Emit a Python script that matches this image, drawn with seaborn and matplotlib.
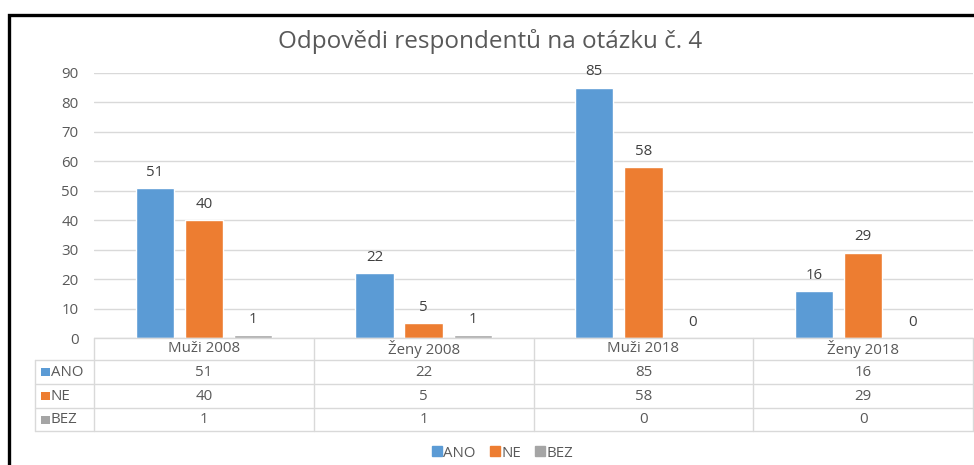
import matplotlib
matplotlib.use("Agg")
import matplotlib.pyplot as plt
import matplotlib.transforms as mtransforms
from matplotlib.patches import Rectangle
from matplotlib.lines import Line2D
import pandas as pd
import seaborn as sns

# data
skupiny = ["Muži 2008", "Ženy 2008", "Muži 2018", "Ženy 2018"]
odpovedi = ["ANO", "NE", "BEZ"]
ano = [51, 22, 85, 16]
ne = [40, 5, 58, 29]
bez = [1, 1, 0, 0]
barvy = ["#5B9BD5", "#ED7D31", "#A5A5A5"]
titulek = "Odpovědi respondentů na otázku č. 4"

hodnoty = {"ANO": ano, "NE": ne, "BEZ": bez}
df = pd.DataFrame(
    [(s, o, hodnoty[o][i]) for o in odpovedi for i, s in enumerate(skupiny)],
    columns=["skupina", "odpoved", "pocet"],
)

sns.set_theme(style="white")
plt.rcParams["font.family"] = ["Open Sans", "DejaVu Sans"]
seda = "#595959"
mrizka = "#D9D9D9"
fs = 10.8

W, H = 974, 465
fig = plt.figure(figsize=(W / 100, H / 100), dpi=100)
fig.patch.set_facecolor("white")

def fx(px):
    return px / W

def fy(py):
    return 1 - py / H

ax = fig.add_axes([fx(94), fy(338), fx(973) - fx(94), fy(73) - fy(338)])
sns.barplot(data=df, x="skupina", y="pocet", hue="odpoved", order=skupiny,
            hue_order=odpovedi, palette=barvy, width=0.67, gap=0.22,
            saturation=1, legend=False, ax=ax)

for cont in ax.containers:
    ax.bar_label(cont, padding=6, fontsize=fs, color="#404040")

ax.set_ylim(0, 90)
ax.set_yticks(range(0, 91, 10))
ax.set_xlim(-0.5, len(skupiny) - 0.5)
ax.set_xlabel("")
ax.set_ylabel("")
ax.set_xticklabels([])
ax.tick_params(axis="y", length=0, pad=11, labelsize=fs, labelcolor=seda)
ax.tick_params(axis="x", length=0)
ax.yaxis.grid(True, color=mrizka, lw=1)
ax.set_axisbelow(True)
for sp in ax.spines.values():
    sp.set_visible(False)

# data table below the axes
tr = mtransforms.blended_transform_factory(ax.transData, fig.transFigure)
radky = [338, 360, 384, 408, 431]
for i, py in enumerate(radky):
    x0 = 94 if i == 0 else 35
    fig.add_artist(Line2D([fx(x0), fx(973)], [fy(py), fy(py)], color=mrizka, lw=1))
for k in range(len(skupiny) + 1):
    fig.add_artist(Line2D([fx(94 + k * (973 - 94) / len(skupiny))] * 2,
                          [fy(338), fy(431)], color=mrizka, lw=1))
fig.add_artist(Line2D([fx(35)] * 2, [fy(360), fy(431)], color=mrizka, lw=1))

for i, s in enumerate(skupiny):
    ax.text(i, fy(349), s, transform=tr, ha="center", va="center",
            fontsize=fs, color=seda)
for r, o in enumerate(odpovedi):
    yc = (radky[r + 1] + radky[r + 2]) / 2
    fig.add_artist(Rectangle((fx(41), fy(yc + 4)), fx(9), 8 / H,
                             transform=fig.transFigure, color=barvy[r], lw=0))
    fig.text(fx(51), fy(yc), o, ha="left", va="center", fontsize=fs, color=seda)
    for i in range(len(skupiny)):
        ax.text(i, fy(yc), str(hodnoty[o][i]), transform=tr, ha="center",
                va="center", fontsize=fs, color=seda)

fig.text(0.503, fy(42), titulek, ha="center", va="center", fontsize=17.5,
         color=seda)

znacky = [Line2D([], [], ls="", marker="s", markersize=6.5, color=c, label=o)
          for c, o in zip(barvy, odpovedi)]
fig.legend(handles=znacky, loc="center", bbox_to_anchor=(fx(503), fy(453)),
           ncol=3, frameon=False, fontsize=fs, labelcolor=seda,
           handlelength=0.6, handletextpad=0.1, columnspacing=1.0)

# outer black frame (right and bottom edges fall outside the picture)
fig.add_artist(Rectangle((fx(8.5), -0.1), 1.2, fy(15.5) + 0.1,
                         transform=fig.transFigure, fill=False, ec="black",
                         lw=2.4))

fig.savefig("out.png", dpi=100, facecolor="white")
